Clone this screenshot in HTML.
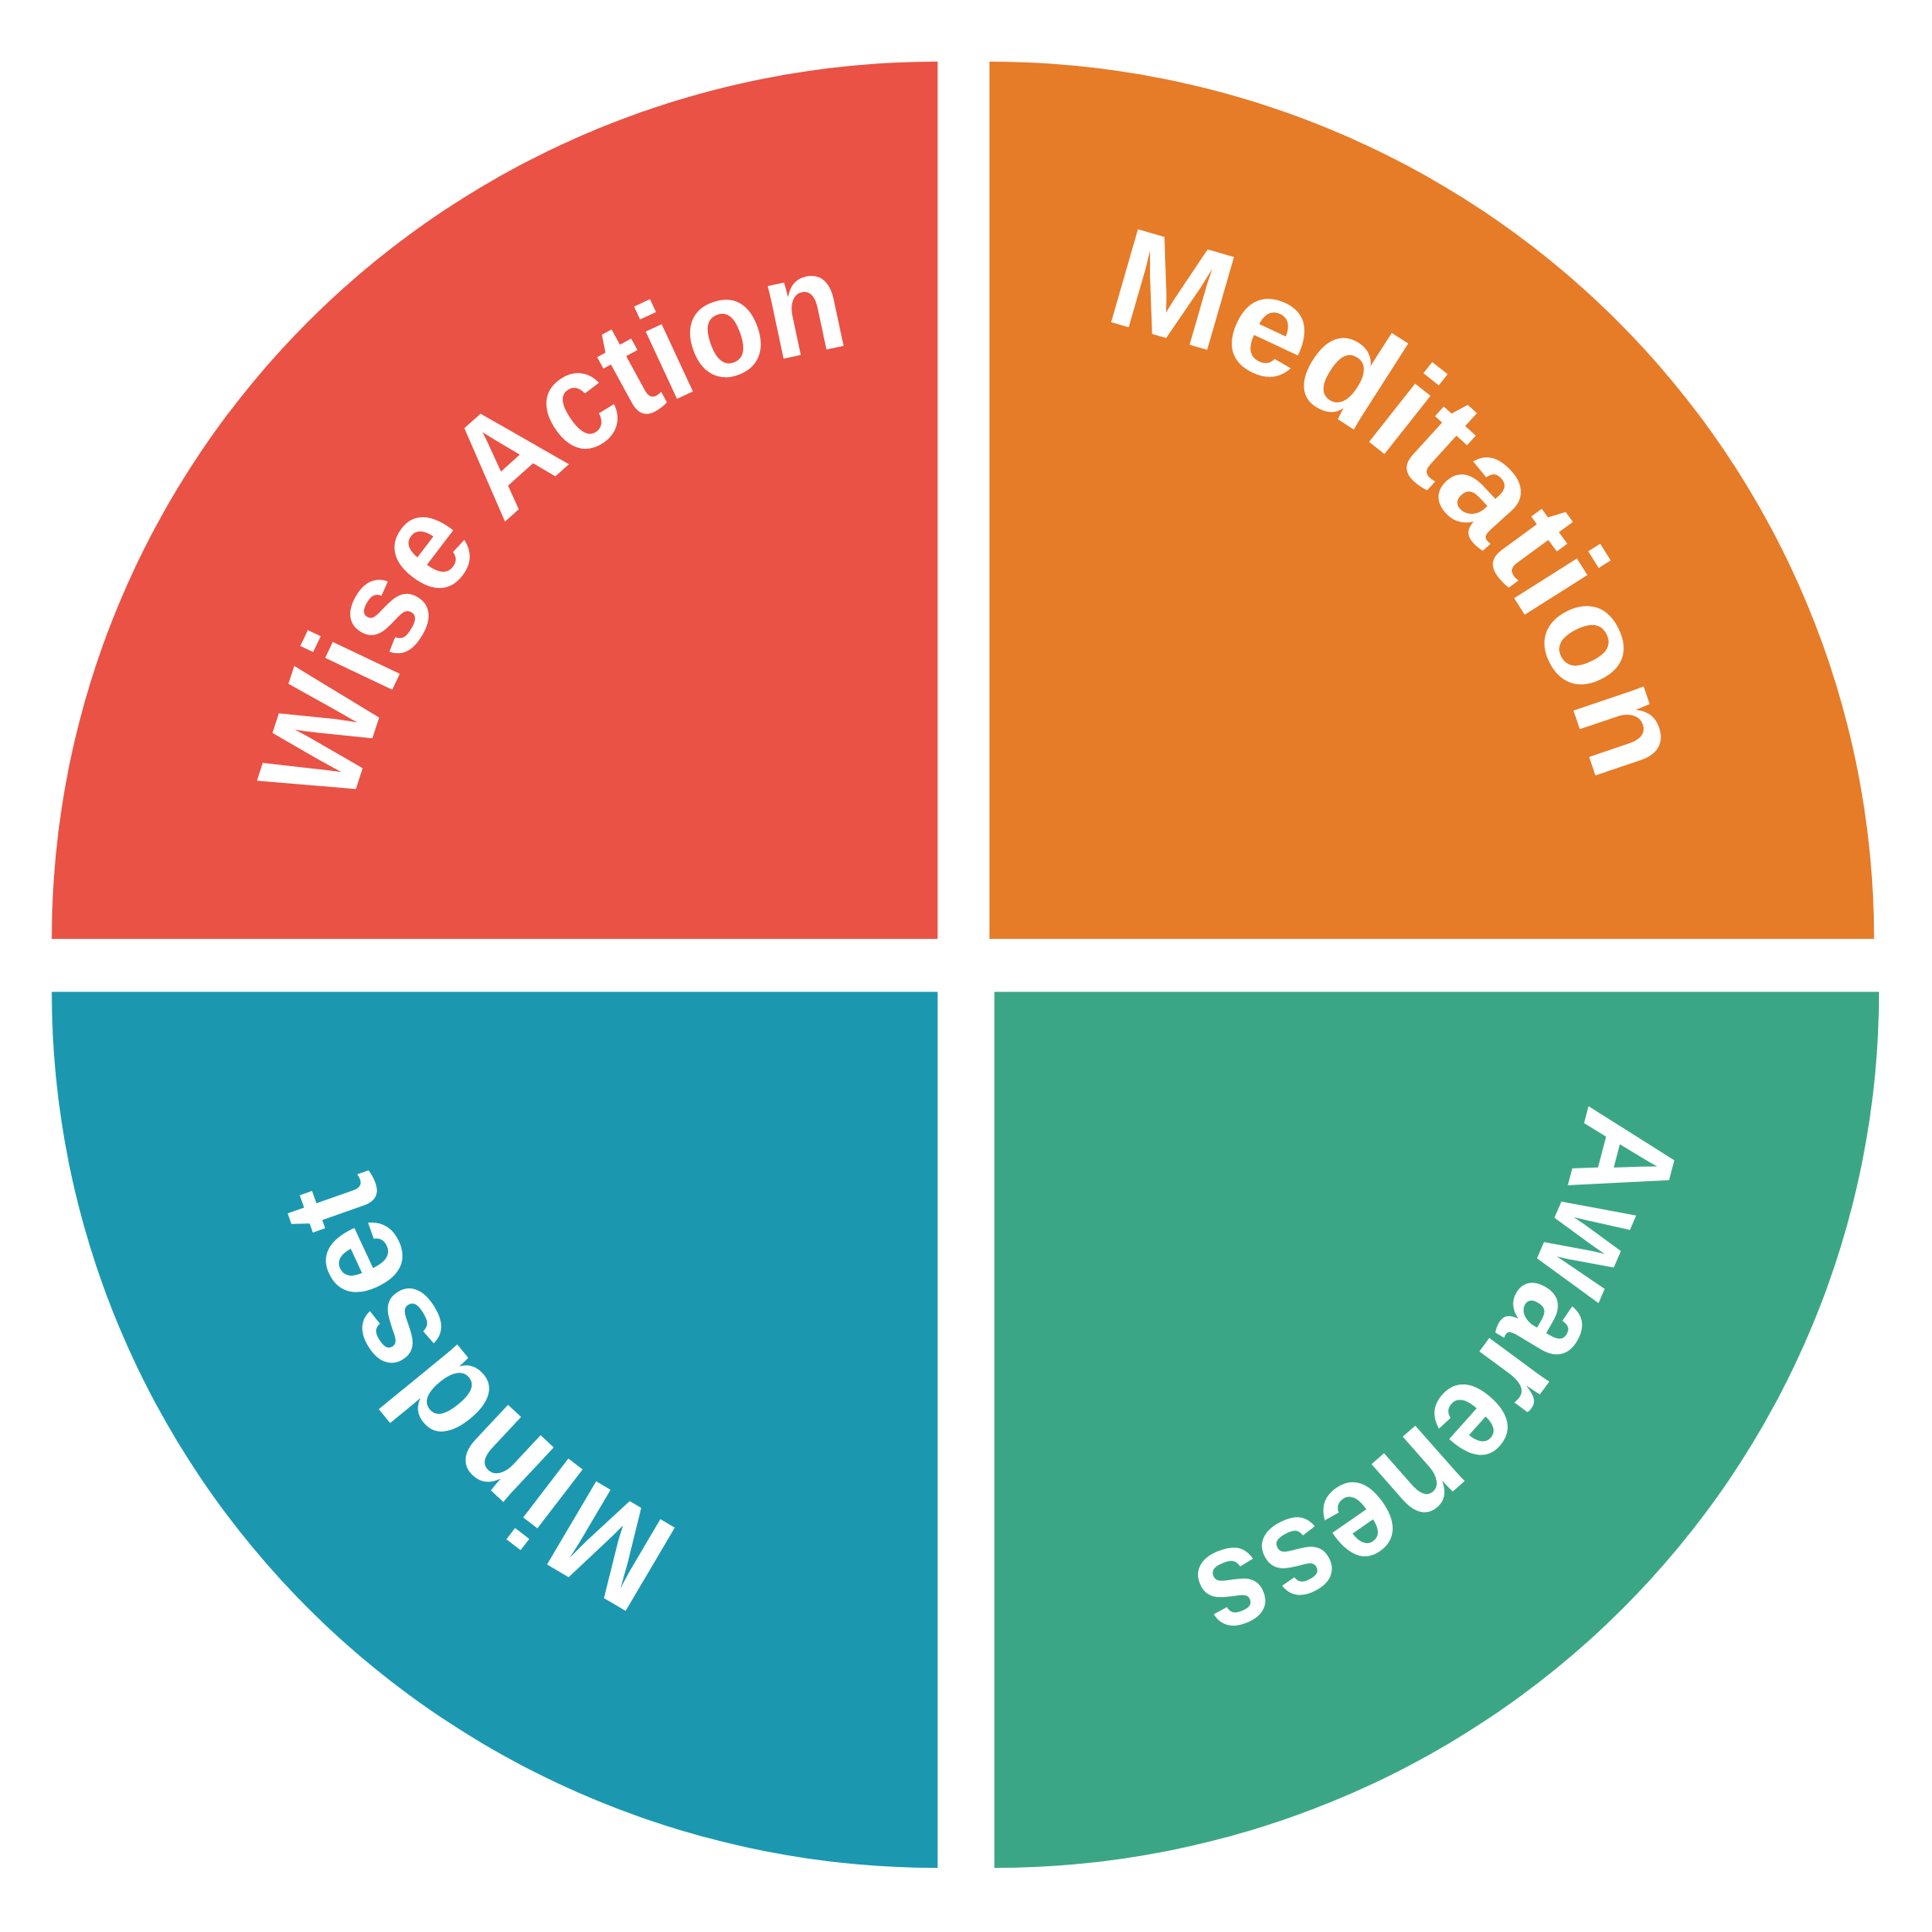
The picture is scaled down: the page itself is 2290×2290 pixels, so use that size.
<!DOCTYPE html>
<html><head><meta charset="utf-8"><style>
html,body{margin:0;padding:0;background:#fff;}
svg{display:block;}
text{font-family:"Liberation Sans",sans-serif;font-weight:bold;fill:#fff;font-size:114px;}
</style></head><body>
<svg width="2290" height="2290" viewBox="0 0 1568 1568" xmlns="http://www.w3.org/2000/svg">
<defs>
<path id="p1" d="M 404.8 1094.1 A 487 487 0 0 1 1117.2 429.9"/>
<path id="p2" d="M 426.4 410.8 A 515 515 0 0 1 1179.6 1113.2"/>
<path id="p3" d="M 1128.5 435.2 A 490 490 0 0 1 485.5 1174.8"/>
<path id="p4" d="M 1077.9 1169.7 A 483 483 0 0 1 444.1 440.3"/>
</defs>
<path d="M42 762 A 719 712 0 0 1 761 50 L761 762 Z" fill="#E95244"/>
<path d="M803 50 A 718 712 0 0 1 1521 762 L803 762 Z" fill="#E67B28"/>
<path d="M42 805 A 719 711 0 0 0 761 1516 L761 805 Z" fill="#1B98B0"/>
<path d="M807 805 L1525 805 A 718 711 0 0 1 807 1516 Z" fill="#3BA686"/>
<text><textPath href="#p1" startOffset="50%" text-anchor="middle" textLength="590" lengthAdjust="spacingAndGlyphs">Wise Action</textPath></text>
<text><textPath href="#p2" startOffset="50%" text-anchor="middle" textLength="580" lengthAdjust="spacingAndGlyphs">Meditation</textPath></text>
<text><textPath href="#p3" startOffset="50%" text-anchor="middle" textLength="520" lengthAdjust="spacingAndGlyphs">Awareness</textPath></text>
<text><textPath href="#p4" startOffset="50%" text-anchor="middle" textLength="400" lengthAdjust="spacingAndGlyphs">Mindset</textPath></text>
</svg>
</body></html>
